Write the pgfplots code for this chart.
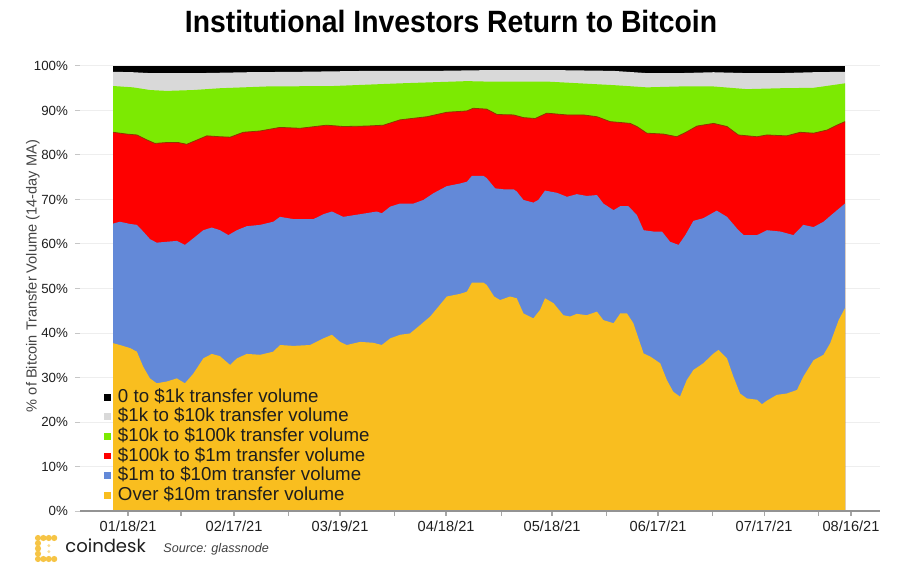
\documentclass[border=0pt]{standalone}
\usepackage{fontspec}
\setmainfont{Liberation Sans}
\newfontfamily\logofont{Poppins}
\usepackage{graphicx}
\usepackage{pgfplots}
\pgfplotsset{compat=1.18}
\definecolor{cdorange}{HTML}{F9BE1F}
\definecolor{cdblue}{HTML}{6389D8}
\definecolor{cdred}{HTML}{FE0000}
\definecolor{cdgreen}{HTML}{7CEA02}
\definecolor{cdgrey}{HTML}{D9D9D9}
\definecolor{cdblack}{HTML}{000000}
\definecolor{redline}{HTML}{8C3A00}
\definecolor{gridc}{HTML}{EEEEEE}
\definecolor{txt}{HTML}{1E1E1E}
\definecolor{lbl}{HTML}{454545}
\definecolor{logo}{HTML}{F6C445}

\begin{document}
\begin{tikzpicture}
\useasboundingbox (-40bp,-29bp) rectangle (410bp,255.5bp);
\begin{axis}[
  at={(0,0)}, anchor=south west,
  scale only axis, width=400bp, height=222.5bp,
  xmin=4.4, xmax=230.8, ymin=0, ymax=100,
  axis x line*=bottom, axis y line*=left,
  x axis line style={draw=none}, y axis line style={draw=none},
  tick align=outside, major tick length=2.5bp,
  xtick={33,63.3,93.3,123.6,153.3,183.3,213.3},
  xticklabels={,,,,,,},
  x tick style={draw=gray!70, line width=0.6bp},
  extra x ticks={18,48,78,108,138,168,198,222.6},
  extra x tick labels={01/18/21,02/17/21,03/19/21,04/18/21,05/18/21,06/17/21,07/17/21,08/16/21},
  extra x tick style={tick style={draw=none}},
  ytick={0,10,...,100},
  yticklabel={\pgfmathprintnumber{\tick}\%},
  y tick style={draw=gray!45, line width=0.5bp},
  ymajorgrids, grid style={gridc, line width=0.5bp},
  /pgf/number format/assume math mode=true,
  yticklabel style={font=\fontsize{6.65bp}{8bp}\selectfont, text=txt},
  xticklabel style={font=\fontsize{7.3bp}{8.5bp}\selectfont, text=txt, yshift=1.3bp},
  ylabel={\% of Bitcoin Transfer Volume (14-day MA)},
  every axis y label/.style={at={(axis description cs:-0.0588,0.528)}, rotate=90, anchor=center,
    font=\fontsize{7.3bp}{8.5bp}\selectfont, text=lbl},
  legend image code/.code={\fill[#1] (0bp,-1.7bp) rectangle (3.4bp,1.7bp);},
  legend cell align=left,
  legend style={at={(0.03,0.2785)}, anchor=north west, draw=none, fill=none,
    inner sep=0pt, row sep=0pt,
    font=\fontsize{9.35bp}{10bp}\selectfont, text=txt,
    nodes={inner sep=0.4bp, text height=7bp, text depth=2bp},
    /tikz/every odd column/.append style={column sep=3bp}},
]
% 0 to $1k (top of stack = 100%)
\addplot[fill=cdblack, draw=none] coordinates {(13.8,100) (220.9,100)} \closedcycle;
\addlegendentry{0 to \$1k transfer volume}
% $1k to $10k (cumulative top)
\addplot[fill=cdgrey, draw=none] coordinates {
 (13.8,98.7) (19.4,98.6) (24.2,98.4) (38.4,98.4) (52.0,98.6) (66.7,98.7) (85.6,98.9)
 (104.4,98.9) (122.4,99.1) (136.5,99.1) (155.4,98.9) (164.8,98.4) (174.2,98.4)
 (183.7,98.6) (193.1,98.4) (202.6,98.4) (212.0,98.6) (220.9,98.7)} \closedcycle;
\addlegendentry{\$1k to \$10k transfer volume}
% $10k to $100k
\addplot[fill=cdgreen, draw=none] coordinates {
 (13.8,95.5) (19.4,95.2) (24.2,94.6) (29.0,94.4) (36.5,94.6) (44.0,95.0) (57.3,95.4)
 (76.1,95.5) (95.0,96.1) (113.9,96.6) (119.5,96.5) (127.1,96.5) (136.5,96.5) (145.9,96.1)
 (155.4,95.7) (164.8,95.2) (174.2,95.4) (183.7,95.4) (193.1,94.8) (202.6,95.0) (212.0,95.1)
 (220.9,96.1)} \closedcycle;
\addlegendentry{\$10k to \$100k transfer volume}
% $100k to $1m
\addplot[fill=cdred, draw=none] coordinates {
 (13.8,85.1) (17.6,84.7) (20.5,84.5) (23.3,83.4) (25.6,82.6) (29.0,82.8) (32.2,82.8)
 (34.6,82.4) (40.3,84.3) (44.0,84.1) (46.9,84.0) (50.6,85.1) (55.4,85.4) (61.0,86.2)
 (66.7,86.0) (74.2,86.7) (78.9,86.4) (85.6,86.5) (90.3,86.7) (95.0,87.9) (102.6,88.6)
 (108.2,89.6) (113.9,89.9) (115.7,90.5) (119.5,90.3) (122.4,89.1) (127.1,89.0) (129.9,88.4)
 (133.2,88.2) (136.5,89.4) (142.2,89.0) (146.9,89.0) (150.7,88.6) (154.4,87.5) (157.3,87.3)
 (160.1,87.1) (162.0,86.4) (164.8,84.9) (169.5,84.7) (173.3,84.1) (176.1,85.2) (179.0,86.5)
 (183.7,87.1) (187.5,86.4) (190.7,84.5) (196.0,84.1) (198.8,84.5) (204.4,84.3) (208.2,85.1)
 (212.0,84.9) (215.8,85.6) (218.6,86.7) (220.9,87.5)} \closedcycle;
\addlegendentry{\$100k to \$1m transfer volume}
\addplot[draw=redline, line width=0.4bp, forget plot] coordinates {
 (13.8,85.1) (17.6,84.7) (20.5,84.5) (23.3,83.4) (25.6,82.6) (29.0,82.8) (32.2,82.8)
 (34.6,82.4) (40.3,84.3) (44.0,84.1) (46.9,84.0) (50.6,85.1) (55.4,85.4) (61.0,86.2)
 (66.7,86.0) (74.2,86.7) (78.9,86.4) (85.6,86.5) (90.3,86.7) (95.0,87.9) (102.6,88.6)
 (108.2,89.6) (113.9,89.9) (115.7,90.5) (119.5,90.3) (122.4,89.1) (127.1,89.0) (129.9,88.4)
 (133.2,88.2) (136.5,89.4) (142.2,89.0) (146.9,89.0) (150.7,88.6) (154.4,87.5) (157.3,87.3)
 (160.1,87.1) (162.0,86.4) (164.8,84.9) (169.5,84.7) (173.3,84.1) (176.1,85.2) (179.0,86.5)
 (183.7,87.1) (187.5,86.4) (190.7,84.5) (196.0,84.1) (198.8,84.5) (204.4,84.3) (208.2,85.1)
 (212.0,84.9) (215.8,85.6) (218.6,86.7) (220.9,87.5)};
% $1m to $10m
\addplot[fill=cdblue, draw=none] coordinates {
 (13.8,64.6) (15.7,65.0) (18.6,64.5) (20.5,64.3) (22.3,62.8) (24.2,61.1) (26.1,60.3)
 (29.0,60.5) (31.8,60.7) (34.1,59.8) (36.5,61.3) (39.3,63.1) (41.7,63.7) (44.0,63.1)
 (46.4,62.0) (48.8,63.1) (51.6,64.0) (55.4,64.3) (59.1,65.0) (61.0,66.1) (64.8,65.6)
 (70.5,65.6) (73.3,66.7) (75.7,67.3) (78.9,66.1) (83.7,66.7) (88.4,67.3) (89.8,66.9)
 (92.2,68.4) (95.0,69.1) (98.8,69.1) (101.6,69.9) (104.4,71.4) (108.2,73.0) (112.0,73.6)
 (113.9,74.0) (115.3,75.3) (118.6,75.3) (119.5,74.8) (121.9,72.5) (124.2,72.3) (127.1,72.3)
 (128.0,71.8) (129.9,69.9) (132.7,69.3) (134.1,69.9) (136.0,72.0) (139.4,71.5) (142.2,70.6)
 (145.0,71.2) (147.8,70.8) (150.7,71.0) (152.5,69.1) (155.4,67.6) (157.3,68.5) (159.6,68.5)
 (162.0,66.5) (163.9,63.1) (166.7,62.8) (169.1,62.8) (171.4,60.5) (173.8,59.8) (175.7,62.0)
 (178.0,65.2) (180.8,65.8) (184.6,67.5) (187.5,66.1) (190.3,63.5) (192.2,62.0) (196.0,62.0)
 (198.8,63.1) (202.6,62.8) (206.3,62.0) (209.1,64.3) (212.0,63.8) (214.8,65.0) (217.6,66.9)
 (220.9,69.1)} \closedcycle;
\addlegendentry{\$1m to \$10m transfer volume}
% over $10m
\addplot[fill=cdorange, draw=none] coordinates {
 (13.8,37.7) (15.7,37.3) (18.6,36.6) (20.5,35.8) (22.3,32.4) (24.2,29.8) (26.1,28.7)
 (29.0,29.1) (31.8,29.8) (34.1,28.7) (36.5,30.9) (39.3,34.3) (41.7,35.3) (44.0,34.8)
 (46.9,32.8) (48.8,34.3) (51.6,35.3) (55.4,35.1) (59.1,35.8) (61.0,37.3) (64.8,37.1)
 (69.5,37.3) (73.3,38.8) (75.7,39.6) (78.0,38.0) (79.9,37.3) (83.7,38.0) (87.4,37.8)
 (89.8,37.3) (92.2,38.8) (95.0,39.6) (97.8,39.9) (100.7,41.8) (103.5,43.7) (105.4,45.5)
 (108.2,48.2) (112.0,48.8) (113.9,49.3) (115.3,51.3) (118.6,51.3) (119.5,50.8) (121.6,48.2)
 (123.3,47.4) (126.1,48.2) (128.0,47.8) (129.9,44.4) (132.7,43.3) (134.6,45.2) (136.0,47.8)
 (138.4,46.7) (141.2,44.0) (143.1,43.7) (145.0,44.3) (147.8,44.0) (150.7,44.8) (152.5,42.9)
 (155.4,42.2) (157.3,44.4) (159.2,44.4) (161.0,42.2) (163.9,35.4) (165.8,34.7) (168.6,33.2)
 (170.5,29.4) (172.3,26.8) (174.2,25.7) (176.1,29.4) (178.0,31.7) (180.8,33.2) (183.7,35.4)
 (185.1,36.2) (187.5,34.3) (189.3,30.2) (191.2,26.4) (193.1,25.3) (196.0,25.0) (197.4,24.0)
 (198.8,24.8) (201.6,26.1) (204.4,26.4) (207.3,27.2) (209.1,30.2) (212.0,33.9) (214.8,35.1)
 (216.7,37.7) (219.1,42.9) (220.9,45.6)} \closedcycle;
\addlegendentry{Over \$10m transfer volume}
\draw[gray!85, line width=0.7bp] (rel axis cs:0,0) -- (rel axis cs:1,0);
\end{axis}
% title
\node[font=\fontsize{15.4bp}{18bp}\selectfont\bfseries, text=black] at (185.5bp,245bp)
  {\scalebox{0.92}[1]{Institutional Investors Return to Bitcoin}};
% footer logo
\foreach \i in {0,1,2,3} {
  \fill[logo] (-21bp+\i*2.7bp,-13.5bp) circle (1.55bp);
  \fill[logo] (-21bp+\i*2.7bp,-24bp) circle (1.55bp);
}
\foreach \j in {1,2,3} {\fill[logo] (-21bp,-13.5bp-\j*2.625bp) circle (1.55bp);}
\fill[logo!60] (-15.6bp,-17.3bp) circle (0.8bp);
\fill[logo!60] (-15.6bp,-20.3bp) circle (0.8bp);
\node[anchor=base west, inner sep=0pt, font=\logofont\fontsize{9bp}{11bp}\selectfont, text=txt]
  at (-7.5bp,-20.5bp) {coindesk};
\node[anchor=base west, inner sep=0pt, font=\fontsize{6.3bp}{7.5bp}\selectfont\itshape, text=txt!85]
  at (41.5bp,-20.5bp) {Source: glassnode};
\end{tikzpicture}
\end{document}
